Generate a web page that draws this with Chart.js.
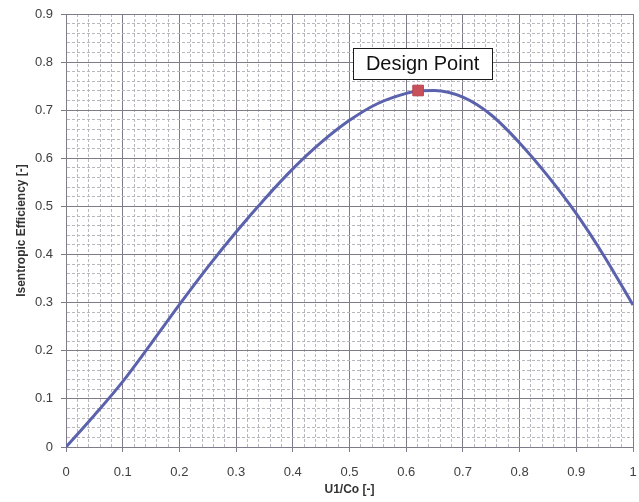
<!DOCTYPE html>
<html>
<head>
<meta charset="utf-8">
<script src="https://cdn.jsdelivr.net/npm/chart.js@4"></script>
<style>
  html, body { margin: 0; padding: 0; background: #ffffff; }
  #wrap { width: 639px; height: 502px; position: relative; }
</style>
</head>
<body>
<div id="wrap"><canvas id="c" width="639" height="502"></canvas></div>
<script>
// Data
const u1co = [0, 0.05, 0.10, 0.15, 0.20, 0.25, 0.30, 0.35, 0.40, 0.45, 0.50, 0.55, 0.60, 0.62, 0.65, 0.70, 0.75, 0.80, 0.85, 0.90, 0.95, 1.00];
const efficiency = [0, 0.066, 0.136, 0.215, 0.296, 0.374, 0.447, 0.515, 0.578, 0.633, 0.679, 0.714, 0.735, 0.740, 0.741, 0.727, 0.690, 0.632, 0.563, 0.485, 0.395, 0.295];
const designX = [0.621];
const designY = [0.741];
const designLabel = "Design Point";
const xTitle = "U1/Co [-]";
const yTitle = "Isentropic Efficiency [-]";

const isMajor = v => Math.abs(Math.round(v * 10) - v * 10) < 1e-6;
const fmt = v => {
  const r = Math.round(v * 10) / 10;
  if (r === 0) return '0';
  if (r === 1) return '1';
  return r.toFixed(1);
};

const MAJOR = '#807b88';
const MINOR = '#b9b6bd';

const gridOpts = {
  color: ctx => (ctx.tick && isMajor(ctx.tick.value)) ? MAJOR : MINOR,
  lineWidth: 1,
  drawTicks: true,
  tickLength: 5,
  tickColor: ctx => (ctx.tick && isMajor(ctx.tick.value)) ? MAJOR : 'rgba(0,0,0,0)'
};
const borderOpts = {
  color: MAJOR,
  width: 1,
  dash: ctx => (ctx.tick && !isMajor(ctx.tick.value)) ? [3, 2] : []
};

const labelPlugin = {
  id: 'designLabel',
  afterDatasetsDraw(chart) {
    const {ctx, scales} = chart;
    const px = scales.x.getPixelForValue(designX[0]);
    const py = scales.y.getPixelForValue(designY[0]);
    const cx = px + 4.5, cy = py - 27;
    const w = 139, h = 31;
    ctx.save();
    ctx.fillStyle = '#ffffff';
    ctx.strokeStyle = '#1a1a1a';
    ctx.lineWidth = 1;
    const bx = Math.round(cx - w / 2) + 0.5, by = Math.round(cy - h / 2) + 0.5;
    ctx.fillRect(bx, by, w, h);
    ctx.strokeRect(bx, by, w, h);
    ctx.fillStyle = '#111111';
    ctx.font = '20px "Liberation Sans", Arial, sans-serif';
    ctx.textAlign = 'center';
    ctx.textBaseline = 'middle';
    ctx.fillText(designLabel, cx, cy + 1);
    ctx.restore();
  }
};

new Chart(document.getElementById('c'), {
  type: 'line',
  data: {
    datasets: [
      {
        label: 'Efficiency',
        data: u1co.map((x, i) => ({x: x, y: efficiency[i]})),
        borderColor: '#5b62ad',
        borderWidth: 3,
        pointRadius: 0,
        fill: false,
        cubicInterpolationMode: 'monotone',
        order: 2
      },
      {
        label: designLabel,
        data: designX.map((x, i) => ({x: x, y: designY[i]})),
        showLine: false,
        pointStyle: 'rect',
        pointRadius: 7.5,
        pointBackgroundColor: '#c8505a',
        pointBorderColor: '#b84450',
        pointBorderWidth: 1,
        order: 1
      }
    ]
  },
  options: {
    responsive: false,
    animation: false,
    events: [],
    layout: { autoPadding: false, padding: { top: 14, right: 6, left: 0, bottom: 0 } },
    plugins: {
      legend: { display: false },
      tooltip: { enabled: false }
    },
    scales: {
      x: {
        type: 'linear',
        min: 0,
        max: 1,
        grid: gridOpts,
        border: borderOpts,
        ticks: {
          stepSize: 0.02,
          autoSkip: false,
          maxRotation: 0,
          padding: 13,
          color: '#404040',
          font: { family: '"Liberation Sans", Arial, sans-serif', size: 13 },
          callback: v => isMajor(v) ? fmt(v) : ''
        },
        title: {
          display: true,
          text: xTitle,
          color: '#333333',
          font: { family: '"Liberation Sans", Arial, sans-serif', size: 12, weight: 'bold' },
          padding: { top: 0, bottom: 5 }
        },
        afterFit: s => { s.height = 55; s.paddingLeft = 0; s.paddingRight = 0; }
      },
      y: {
        type: 'linear',
        min: 0,
        max: 0.9,
        grid: gridOpts,
        border: borderOpts,
        ticks: {
          stepSize: 0.02,
          autoSkip: false,
          padding: 8,
          color: '#404040',
          font: { family: '"Liberation Sans", Arial, sans-serif', size: 13 },
          callback: v => isMajor(v) ? fmt(v) : ''
        },
        title: {
          display: true,
          text: yTitle,
          color: '#333333',
          font: { family: '"Liberation Sans", Arial, sans-serif', size: 12, weight: 'bold' },
          padding: { top: 14, bottom: 0 }
        },
        afterFit: s => { s.width = 66; s.paddingTop = 0; s.paddingBottom = 0; }
      }
    }
  },
  plugins: [labelPlugin]
});
</script>
</body>
</html>
